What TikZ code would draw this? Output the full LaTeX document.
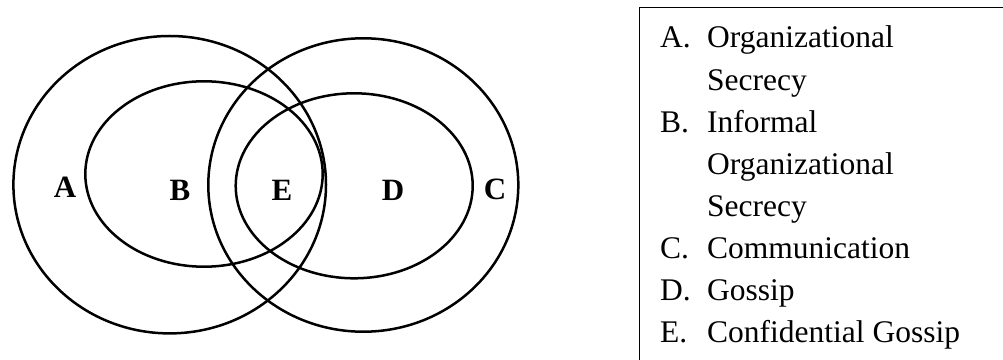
\documentclass[tikz,border=0pt]{standalone}
\usepackage{fontspec}
\setmainfont{Liberation Serif}

\begin{document}
\begin{tikzpicture}[x=1pt,y=1pt,
  ring/.style={line width=2.5pt},
  tag/.style={font=\fontsize{31}{31}\selectfont\bfseries, inner sep=0pt},
  item/.style={font=\fontsize{31.5}{38}\selectfont, inner sep=0pt, anchor=base west}]
  \useasboundingbox (0,0) rectangle (1003,359);
  \clip (0,0) rectangle (1003,359);

  % the four sets
  \draw[ring] (169.7,174.3) ellipse [x radius=156.3, y radius=148.7];
  \draw[ring] (204,185) ellipse [x radius=118.7, y radius=92.7];
  \draw[ring] (363.3,174) ellipse [x radius=155, y radius=146.7];
  \draw[ring] (354.2,173.2) ellipse [x radius=118.5, y radius=92.5];

  \node[tag] (A) at (65,172) {A};
  \node[tag] (B) at (180,169) {B};
  \node[tag] (E) at (282,169) {E};
  \node[tag] (D) at (393,169) {D};
  \node[tag] (C) at (495,170) {C};

  % key
  \draw[line width=1.2pt] (639.3,-20) rectangle (1040,351.7);
  \node[item] (keyA) at (660,311) {A.};
  \node[item] (textA) at (707,311) {Organizational};
  \node[item] (textA2) at (707,268.9) {Secrecy};
  \node[item] (keyB) at (660,226.8) {B.};
  \node[item] (textB) at (707,226.8) {Informal};
  \node[item] (textB2) at (707,184.7) {Organizational};
  \node[item] (textB3) at (707,142.6) {Secrecy};
  \node[item] (keyC) at (660,100.5) {C.};
  \node[item] (textC) at (707,100.5) {Communication};
  \node[item] (keyD) at (660,58.4) {D.};
  \node[item] (textD) at (707,58.4) {Gossip};
  \node[item] (keyE) at (660,16.3) {E.};
  \node[item] (textE) at (707,16.3) {Confidential Gossip};
\end{tikzpicture}
\end{document}
